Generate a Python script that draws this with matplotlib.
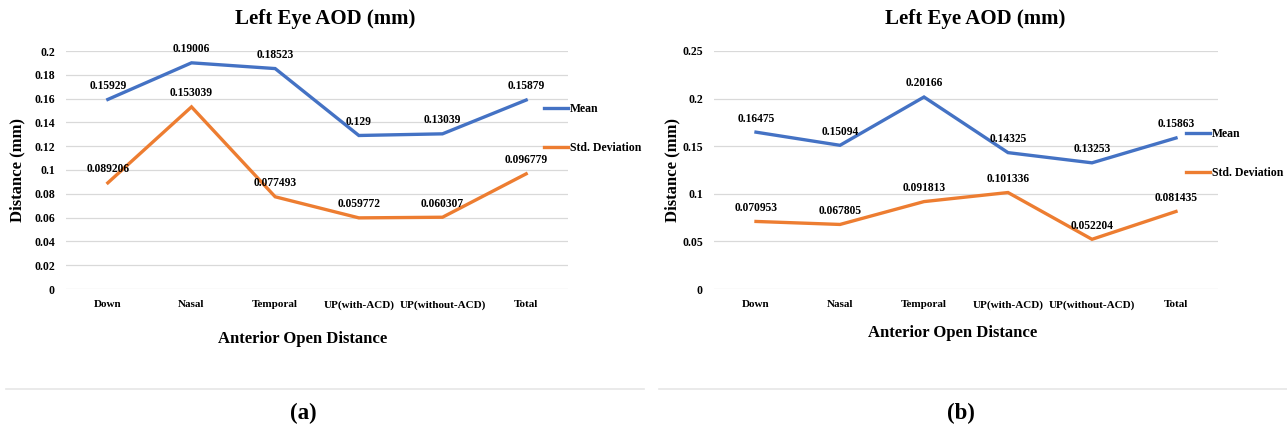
import matplotlib
matplotlib.use("Agg")
import matplotlib.pyplot as plt
from matplotlib.lines import Line2D
from matplotlib.ticker import FuncFormatter, MultipleLocator

plt.rcParams["font.family"] = ["Liberation Serif", "DejaVu Serif"]
plt.rcParams["font.weight"] = "bold"

categories = ["Down", "Nasal", "Temporal", "UP(with-ACD)", "UP(without-ACD)", "Total"]

mean_a = [0.15929, 0.19006, 0.18523, 0.129, 0.13039, 0.15879]
std_a = [0.089206, 0.153039, 0.077493, 0.059772, 0.060307, 0.096779]

mean_b = [0.16475, 0.15094, 0.20166, 0.14325, 0.13253, 0.15863]
std_b = [0.070953, 0.067805, 0.091813, 0.101336, 0.052204, 0.081435]

BLUE = "#4472C4"
ORANGE = "#ED7D31"
W, H = 1287, 429


def px_axes(fig, x0, x1, ytop, ybot):
    return fig.add_axes([x0 / W, 1 - ybot / H, (x1 - x0) / W, (ybot - ytop) / H])


def draw_panel(ax, mean, std, ymax, step, legend_pos, title_x, xlabel_pos):
    x = list(range(len(categories)))
    ax.plot(x, mean, color=BLUE, lw=2.4, label="Mean", solid_joinstyle="miter")
    ax.plot(x, std, color=ORANGE, lw=2.4, label="Std. Deviation", solid_joinstyle="miter")
    for series in (mean, std):
        for xi, v in zip(x, series):
            ax.annotate(f"{v:g}", (xi, v), xytext=(0, 5.5), textcoords="offset points",
                        ha="center", va="bottom", fontsize=8.3, fontweight="bold")

    ax.set_xlim(-0.5, len(categories) - 0.5)
    ax.set_ylim(0, ymax)
    ax.yaxis.set_major_locator(MultipleLocator(step))
    ax.yaxis.set_major_formatter(FuncFormatter(lambda v, p: f"{round(v, 4):g}"))
    ax.set_xticks(x)
    ax.set_xticklabels(categories, fontsize=8, fontweight="bold")
    ax.tick_params(axis="y", labelsize=8.5, length=0, pad=8)
    ax.tick_params(axis="x", length=0, pad=8)
    ax.grid(axis="y", color="#D9D9D9", lw=0.9)
    ax.set_axisbelow(True)
    for s in ax.spines.values():
        s.set_visible(False)

    ax.set_title("Left Eye AOD (mm)", fontsize=15, fontweight="bold", x=title_x, y=1.08)
    ax.set_ylabel("Distance (mm)", fontsize=12, fontweight="bold")
    ax.set_xlabel("Anterior Open Distance", fontsize=12, fontweight="bold")
    ax.xaxis.set_label_coords(*xlabel_pos)

    lx, ly = legend_pos
    ax.legend(loc="upper left", bbox_to_anchor=(lx / W, 1 - ly / H),
              bbox_transform=ax.figure.transFigure, frameon=False,
              prop={"size": 8.5, "weight": "bold"}, handlelength=2.0,
              handletextpad=0.2, borderpad=0, borderaxespad=0, labelspacing=2.3)


fig = plt.figure(figsize=(W / 100, H / 100), dpi=100)

ax1 = px_axes(fig, 66, 568, 51, 289)
draw_panel(ax1, mean_a, std_a, 0.2, 0.02, (544, 103), 0.516, (0.472, -0.178))
ax1.yaxis.set_label_coords(-0.08, 0.5)

ax2 = px_axes(fig, 714, 1218, 51, 289)
draw_panel(ax2, mean_b, std_b, 0.25, 0.05, (1186, 128), 0.518, (0.474, -0.152))
ax2.yaxis.set_label_coords(-0.067, 0.5)

for x0, x1 in ((6, 644), (659, 1287)):
    fig.add_artist(Line2D([x0 / W, x1 / W], [1 - 389 / H] * 2, color="#E6E6E6", lw=1.2))

fig.text(303 / W, 1 - 413 / H, "(a)", ha="center", va="center", fontsize=16.5, fontweight="bold")
fig.text(961 / W, 1 - 413 / H, "(b)", ha="center", va="center", fontsize=16.5, fontweight="bold")

fig.savefig("out.png", dpi=100)
